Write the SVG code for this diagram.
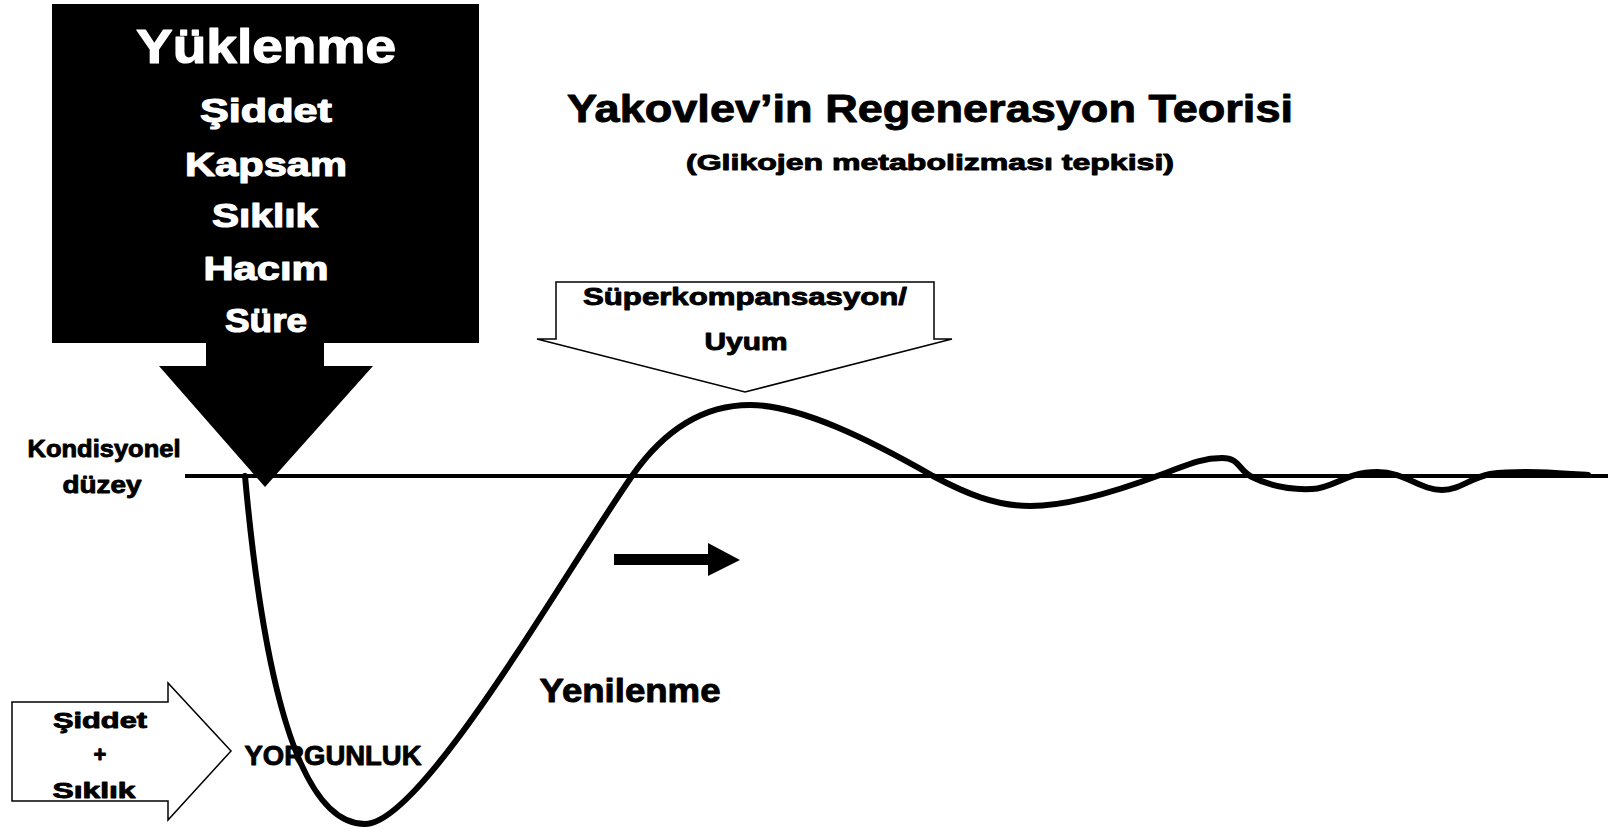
<svg xmlns="http://www.w3.org/2000/svg" width="1608" height="830" viewBox="0 0 1608 830">
<style>
text{font-family:"Liberation Sans",Arial,sans-serif;font-weight:bold;text-anchor:middle;fill:#000;stroke:#000;stroke-width:0.9;stroke-linejoin:round}
text.w{fill:#fff;stroke:#fff;stroke-width:1.2}
.k{fill:#000}
.outline{fill:#fff;stroke:#000;stroke-width:1.5;stroke-linejoin:miter}
.curve{fill:none;stroke:#000;stroke-width:6;stroke-linecap:round;stroke-linejoin:round}
.base{stroke:#000;stroke-width:4}
</style>
<rect width="1608" height="830" fill="#fff"/>
<g id="title">
<text x="930" y="122" font-size="38" textLength="726" lengthAdjust="spacingAndGlyphs">Yakovlev’in Regenerasyon Teorisi</text>
<text x="930" y="170" font-size="22" textLength="488" lengthAdjust="spacingAndGlyphs">(Glikojen metabolizması tepkisi)</text>
</g>
<g id="level">
<line class="base" x1="185" y1="476" x2="1608" y2="476"/>
<text x="104" y="457" font-size="24" textLength="153" lengthAdjust="spacingAndGlyphs">Kondisyonel</text>
<text x="102" y="493" font-size="24" textLength="79" lengthAdjust="spacingAndGlyphs">düzey</text>
</g>
<g id="connectors">
<path class="curve" d="M245,476 C258,620 287,824 365,824 C422,824 560,580 632,476 C662,433 700,405 750,405 C800,405 870,440 933,476 C965,493 995,506 1030,506 C1070,506 1120,490 1160,475 C1185,466 1200,458 1222,458 C1240,458 1238,470 1252,477 C1270,486 1290,490 1312,489 C1335,488 1345,472 1377,472 C1405,472 1420,490 1442,490 C1460,490 1470,478 1490,474 C1520,470 1560,473 1588,475"/>
<path class="k" d="M614,554 H708 V543 L740,560 L708,576 V565 H614 Z"/>
</g>
<g id="load">
<path class="k" d="M52,4 H479 V343 H324 V366 H373 L265,487 L159,366 H206 V343 H52 Z"/>
<text class="w" x="266" y="63" font-size="48" textLength="260" lengthAdjust="spacingAndGlyphs">Yüklenme</text>
<text class="w" x="266" y="122" font-size="34" textLength="132" lengthAdjust="spacingAndGlyphs">Şiddet</text>
<text class="w" x="266" y="176" font-size="34" textLength="162" lengthAdjust="spacingAndGlyphs">Kapsam</text>
<text class="w" x="265" y="227" font-size="34" textLength="106" lengthAdjust="spacingAndGlyphs">Sıklık</text>
<text class="w" x="266" y="280" font-size="34" textLength="125" lengthAdjust="spacingAndGlyphs">Hacım</text>
<text class="w" x="266" y="332" font-size="34" textLength="82" lengthAdjust="spacingAndGlyphs">Süre</text>
</g>
<g id="supercomp">
<path class="outline" d="M556,282 H934 V339 H952 L745,392 L537,339 H556 Z"/>
<text x="745" y="305" font-size="24" textLength="324" lengthAdjust="spacingAndGlyphs">Süperkompansasyon/</text>
<text x="746" y="350" font-size="24" textLength="83" lengthAdjust="spacingAndGlyphs">Uyum</text>
</g>
<g id="intensity">
<path class="outline" d="M12,702 H168 V683 L231,751 L168,820 V801 H12 Z"/>
<text x="100" y="728" font-size="22" textLength="94" lengthAdjust="spacingAndGlyphs">Şiddet</text>
<text x="100" y="762" font-size="22">+</text>
<text x="94" y="798" font-size="22" textLength="83" lengthAdjust="spacingAndGlyphs">Sıklık</text>
</g>
<g id="fatigue">
<text x="333" y="765" font-size="27" textLength="177" lengthAdjust="spacingAndGlyphs">YORGUNLUK</text>
</g>
<g id="recovery">
<text x="630" y="702" font-size="33" textLength="181" lengthAdjust="spacingAndGlyphs">Yenilenme</text>
</g>
</svg>
